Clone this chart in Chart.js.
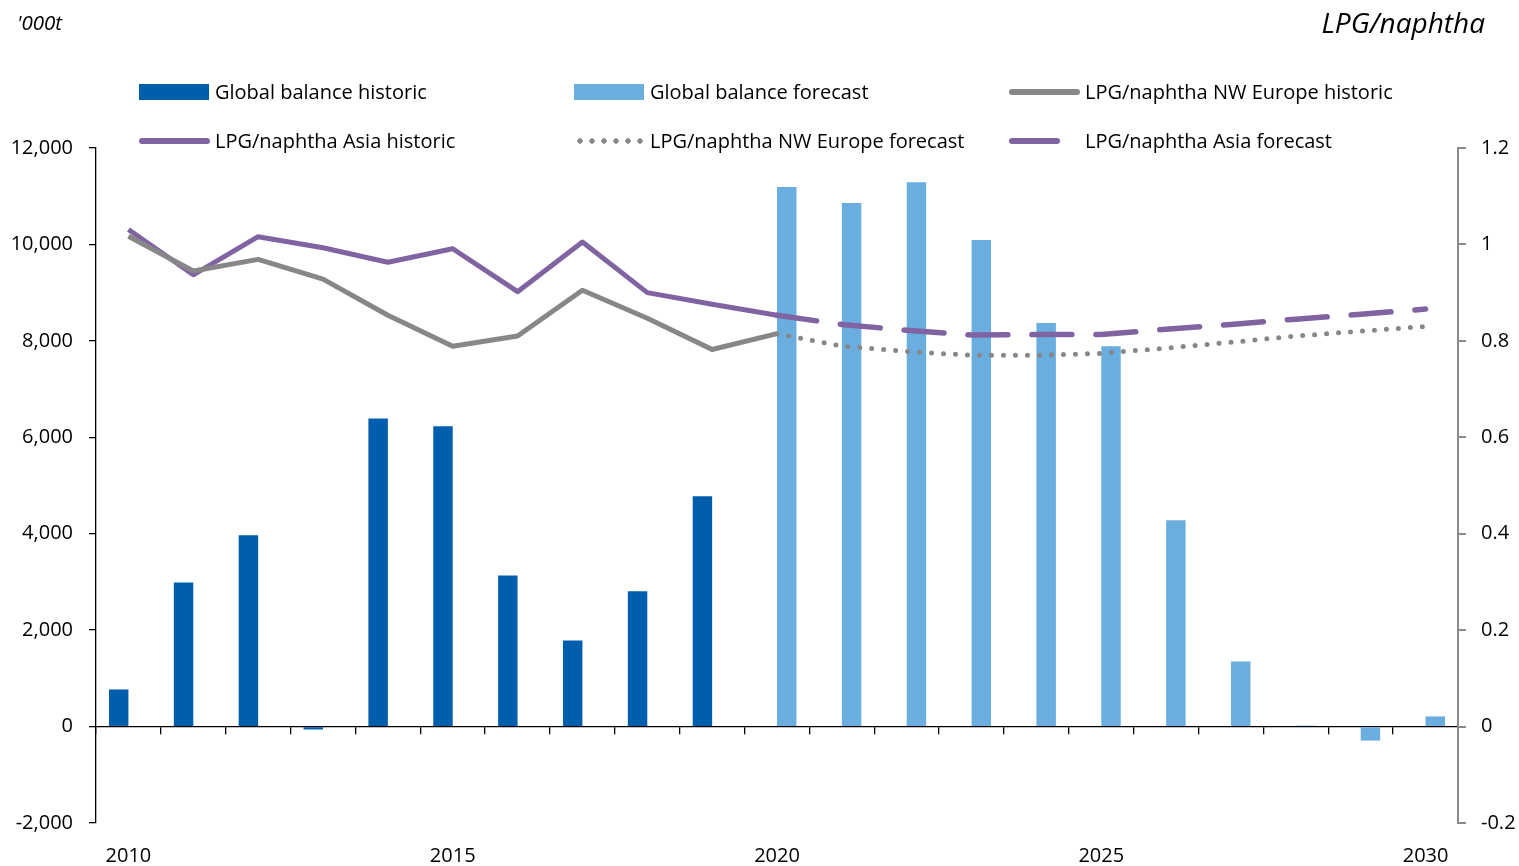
<!DOCTYPE html>
<html><head><meta charset="utf-8">
<script src="https://cdn.jsdelivr.net/npm/chart.js@4.4.1/dist/chart.umd.min.js"></script>
<style>
html,body{margin:0;padding:0;background:#fff;width:1519px;height:866px;overflow:hidden;font-family:"Open Sans",sans-serif;}
#wrap{position:relative;width:1519px;height:866px;}
#c{position:absolute;left:0;top:0;}
.t{position:absolute;font-style:italic;color:#000;white-space:nowrap;}
.leg{position:absolute;font-size:20px;color:#000;white-space:nowrap;line-height:24px;}
.sw{position:absolute;}
</style></head>
<body><div id="wrap">
<canvas id="c" width="1519" height="866"></canvas>
<div class="t" id="unit" style="left:17px;top:8px;font-size:20.5px;line-height:28px;">'000t</div>
<div class="t" id="rtitle" style="right:34px;top:3px;font-size:28px;line-height:38px;">LPG/naphtha</div>
<div id="legend"></div>
</div>
<script>
const years = ['2010','2011','2012','2013','2014','2015','2016','2017','2018','2019','2020','2021','2022','2023','2024','2025','2026','2027','2028','2029','2030'];
const balanceHistoric = [770,2990,3970,-60,6390,6230,3135,1785,2805,4775,null,null,null,null,null,null,null,null,null,null,null];
const balanceForecast = [null,null,null,null,null,null,null,null,null,null,11190,10860,11290,10090,8370,7890,4280,1350,20,-290,210];
const nweHistoric = [1.017,0.945,0.969,0.928,0.853,0.789,0.810,0.905,0.847,0.782,0.815,null,null,null,null,null,null,null,null,null,null];
const asiaHistoric = [1.031,0.937,1.016,0.993,0.963,0.991,0.902,1.005,0.900,0.876,0.853,null,null,null,null,null,null,null,null,null,null];
const nweForecast = [null,null,null,null,null,null,null,null,null,null,0.815,0.789,0.778,0.770,0.770,0.774,0.785,0.797,0.810,0.820,0.830];
const asiaForecast = [null,null,null,null,null,null,null,null,null,null,0.853,0.834,0.822,0.812,0.813,0.813,0.824,0.834,0.845,0.855,0.866];
const leftTicks = [-2000,0,2000,4000,6000,8000,10000,12000];
const rightTicks = [-0.2,0,0.2,0.4,0.6,0.8,1.0,1.2];
const seriesNames = ['Global balance historic','Global balance forecast','LPG/naphtha NW Europe historic','LPG/naphtha Asia historic','LPG/naphtha NW Europe forecast','LPG/naphtha Asia forecast'];

const C_HIST = '#005EAD', C_FCST = '#6AADDF', C_GREY = '#878787', C_PURP = '#8064A2';
const FONT = {family:'"Open Sans", sans-serif', size:20};

// HTML legend (3 columns x 2 rows)
const legSpec = [
  {kind:'bar', color:C_HIST, col:0,row:0},
  {kind:'bar', color:C_FCST, col:1,row:0},
  {kind:'line', color:C_GREY, col:2,row:0},
  {kind:'line', color:C_PURP, col:0,row:1},
  {kind:'dot', color:C_GREY, col:1,row:1},
  {kind:'dash', color:C_PURP, col:2,row:1}
];
const colSw = [139,574,1009], colTx = [215,650,1085], rowY = [92,141];
const legEl = document.getElementById('legend');
legSpec.forEach((s,i)=>{
  const sw = document.createElement('div'); sw.className='sw';
  const x = colSw[s.col], y = rowY[s.row];
  if (s.kind==='bar'){ Object.assign(sw.style,{left:x+'px',top:(y-8)+'px',width:'70px',height:'16px',background:s.color}); }
  else if (s.kind==='line'){ Object.assign(sw.style,{left:x+'px',top:(y-3)+'px',width:'71px',height:'6px',background:s.color,borderRadius:'3px'}); }
  else if (s.kind==='dash'){ Object.assign(sw.style,{left:x+'px',top:(y-3)+'px',width:'51px',height:'6px',background:s.color,borderRadius:'3px'}); }
  else { Object.assign(sw.style,{left:x+'px',top:(y-3)+'px',width:'72px',height:'6px',
    background:'radial-gradient(circle, '+s.color+' 2.4px, rgba(255,255,255,0) 3px) 0 0/12px 6px repeat-x'}); }
  legEl.appendChild(sw);
  const tx = document.createElement('div'); tx.className='leg';
  tx.style.left = colTx[s.col]+'px'; tx.style.top = (y-12)+'px';
  tx.textContent = seriesNames[i];
  legEl.appendChild(tx);
});

new Chart(document.getElementById('c'), {
  data: {
    labels: years,
    datasets: [
      {type:'bar', label:seriesNames[0], data:balanceHistoric, backgroundColor:C_HIST, yAxisID:'y', xAxisID:'x', order:2, categoryPercentage:0.6, barPercentage:1.0},
      {type:'bar', label:seriesNames[1], data:balanceForecast, backgroundColor:C_FCST, yAxisID:'y', xAxisID:'x', order:2, categoryPercentage:0.6, barPercentage:1.0},
      {type:'line', label:seriesNames[2], data:nweHistoric, borderColor:C_GREY, borderWidth:5, pointRadius:0, yAxisID:'y1', xAxisID:'x', order:1, tension:0, borderJoinStyle:'round'},
      {type:'line', label:seriesNames[3], data:asiaHistoric, borderColor:C_PURP, borderWidth:5, pointRadius:0, yAxisID:'y1', xAxisID:'x', order:1, tension:0, borderJoinStyle:'round'},
      {type:'line', label:seriesNames[4], data:nweForecast, borderColor:C_GREY, borderWidth:5, borderDash:[0,12], borderCapStyle:'round', pointRadius:0, yAxisID:'y1', xAxisID:'x', order:0, tension:0},
      {type:'line', label:seriesNames[5], data:asiaForecast, borderColor:C_PURP, borderWidth:5.5, borderDash:[40,24], borderCapStyle:'round', pointRadius:0, yAxisID:'y1', xAxisID:'x', order:0, tension:0}
    ]
  },
  options: {
    responsive:false, animation:false,
    layout:{padding:{top:148,left:0,right:0,bottom:0}},
    plugins:{legend:{display:false}, tooltip:{enabled:false}},
    scales:{
      x:{type:'category', position:'bottom', offset:true,
         grid:{display:false}, border:{display:false},
         ticks:{autoSkip:false, maxRotation:0, padding:13, color:'#000', font:FONT,
                callback:(v,i)=> (i%5===0 ? years[i] : '')},
         afterFit(s){ s.height = 43; }},
      x2:{type:'category', labels:years, position:{y:0}, offset:true,
         grid:{offset:true, drawOnChartArea:false, drawTicks:true, tickLength:7, color:'#000', lineWidth:1.3},
         border:{display:true, color:'#000', width:1.3},
         ticks:{display:false}},
      y:{position:'left', min:-2000, max:12000,
         afterBuildTicks(s){ s.ticks = leftTicks.map(v=>({value:v})); },
         ticks:{color:'#000', font:FONT, padding:16, callback:(v)=> v.toLocaleString('en-US')},
         grid:{drawOnChartArea:false, drawTicks:true, tickLength:7, color:'#000', lineWidth:1.3},
         border:{color:'#000', width:1.3},
         afterFit(s){ s.width = 96; }},
      y1:{position:'right', min:-0.2, max:1.2,
         afterBuildTicks(s){ s.ticks = rightTicks.map(v=>({value:v})); },
         ticks:{color:'#000', font:FONT, padding:15, callback:(v)=> String(Math.round(v*10)/10)},
         grid:{drawOnChartArea:false, drawTicks:true, tickLength:8, color:'#8a8a8a', lineWidth:2},
         border:{color:'#8a8a8a', width:2},
         afterFit(s){ s.width = 61; }}
    }
  }
});
</script>
</body></html>
